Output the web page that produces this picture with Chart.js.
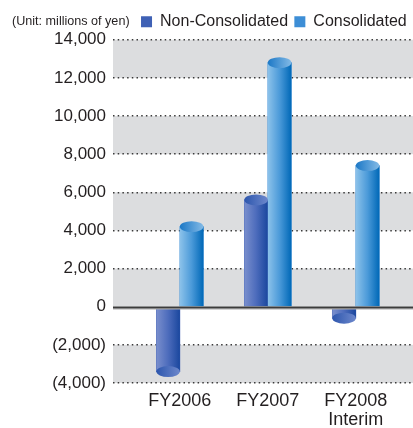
<!DOCTYPE html>
<html><head><meta charset="utf-8">
<style>html,body{margin:0;padding:0;background:#fff;}#wrap{width:413px;height:428px;}</style>
<script src="https://cdn.jsdelivr.net/npm/chart.js@4/dist/chart.umd.min.js"></script>
</head><body><div id="wrap"><canvas id="c" width="413" height="428"></canvas></div>
<script>
const categories = ['FY2006', 'FY2007', ['FY2008', 'Interim']];
const nonConsolidated = [-3400, 5600, -600];
const consolidated = [4200, 12800, 7400];
const yTicks = [-4000, -2000, 0, 2000, 4000, 6000, 8000, 10000, 12000, 14000];
const seriesNames = ['Non-Consolidated', 'Consolidated'];
const unitLabel = '(Unit: millions of yen)';

const FONT = '"Liberation Sans", Arial, Helvetica, sans-serif';
const TEXT = '#231f20';
const styles = [
  { solid: '#3f61b5', body: ['#7a8fcd', '#4d6cbc', '#1a479e'], cap: ['#2d56ad', '#6d88cc'] },
  { solid: '#3d8ed6', body: ['#8cc2ea', '#4b9ad9', '#0068b7'], cap: ['#1c78c6', '#83bae6'] }
];

function fmt(v) {
  const s = Math.abs(v).toLocaleString('en-US');
  return v < 0 ? '(' + s + ')' : s;
}

const bandsPlugin = {
  id: 'bands',
  beforeDraw(chart) {
    const { ctx, chartArea: a, scales: { y } } = chart;
    ctx.save();
    ctx.fillStyle = '#dcdddf';
    for (let i = 0; i < yTicks.length - 1; i++) {
      if (i % 2 === 0) {
        const top = y.getPixelForValue(yTicks[i + 1]);
        const bot = y.getPixelForValue(yTicks[i]);
        ctx.fillRect(a.left, top, a.right - a.left, bot - top);
      }
    }
    ctx.restore();
  }
};

const cylinderPlugin = {
  id: 'cylinders',
  afterDatasetsDraw(chart) {
    const { ctx, chartArea: a, scales: { y } } = chart;
    ctx.save();
    chart.data.datasets.forEach((ds, di) => {
      const st = styles[di];
      chart.getDatasetMeta(di).data.forEach(bar => {
        const { x, y: yy, base, width } = bar.getProps(['x', 'y', 'base', 'width'], true);
        const l = x - width / 2, r = x + width / 2;
        const g = ctx.createLinearGradient(l, 0, r, 0);
        g.addColorStop(0, st.body[0]); g.addColorStop(0.5, st.body[1]); g.addColorStop(1, st.body[2]);
        ctx.fillStyle = g;
        ctx.fillRect(l, Math.min(yy, base), width, Math.abs(base - yy));
        const cg = ctx.createLinearGradient(l, 0, r, 0);
        cg.addColorStop(0, st.cap[0]); cg.addColorStop(1, st.cap[1]);
        ctx.fillStyle = cg;
        ctx.beginPath();
        ctx.ellipse(x, yy, width / 2, 5.5, 0, 0, Math.PI * 2);
        ctx.fill();
      });
    });
    const z = Math.round(y.getPixelForValue(0));
    ctx.fillStyle = '#a9a9ab';
    ctx.fillRect(a.left, z + 1, a.right - a.left, 1.5);
    ctx.fillStyle = '#3c3c3c';
    ctx.fillRect(a.left, z - 0.5, a.right - a.left, 1.8);
    ctx.restore();
  },
  afterDraw(chart) {
    const { ctx, legend } = chart;
    const hb = legend.legendHitBoxes[0];
    ctx.save();
    ctx.font = '12.6px ' + FONT;
    ctx.fillStyle = TEXT;
    ctx.textBaseline = 'middle';
    ctx.textAlign = 'left';
    ctx.fillText(unitLabel, 12, hb.top + hb.height / 2);
    ctx.restore();
  }
};

new Chart(document.getElementById('c'), {
  type: 'bar',
  data: {
    datasets: [
      { label: seriesNames[0], data: nonConsolidated.map((v, i) => ({ x: i, y: v })), backgroundColor: styles[0].solid, borderWidth: 0 },
      { label: seriesNames[1], data: consolidated.map((v, i) => ({ x: i, y: v })), backgroundColor: styles[1].solid, borderWidth: 0 }
    ]
  },
  options: {
    responsive: false,
    animation: false,
    barThickness: 23.5,
    layout: { padding: { top: 7.5, left: 0, right: 0, bottom: 0 } },
    plugins: {
      tooltip: { enabled: false },
      legend: {
        position: 'top',
        align: 'end',
        labels: { boxWidth: 11, boxHeight: 11, padding: 6.25, color: TEXT, font: { family: FONT, size: 16 } }
      }
    },
    scales: {
      x: {
        type: 'linear',
        offset: false,
        min: -0.76,
        max: 2.65,
        afterBuildTicks(s) { s.ticks = categories.map((c, i) => ({ value: i })); },
        afterFit(s) { s.height = 45; },
        grid: { display: false, offset: false },
        border: { display: false },
        ticks: {
          autoSkip: false, maxRotation: 0, padding: 1, color: TEXT,
          font: { family: FONT, size: 18, lineHeight: 1.05 },
          callback: v => categories[v]
        }
      },
      y: {
        min: yTicks[0],
        max: yTicks[yTicks.length - 1],
        afterBuildTicks(s) { s.ticks = yTicks.map(v => ({ value: v })); },
        afterFit(s) { s.width = 113; },
        grid: {
          drawTicks: false,
          lineWidth: 1.5,
          color: c => (c.tick && c.tick.value === 0) ? 'rgba(0,0,0,0)' : '#3a3a3a'
        },
        border: { display: false, dash: [1.5, 3.2] },
        ticks: { padding: 7, color: TEXT, font: { family: FONT, size: 17 }, callback: v => fmt(v) }
      }
    }
  },
  plugins: [bandsPlugin, cylinderPlugin]
});
</script>
</body></html>
